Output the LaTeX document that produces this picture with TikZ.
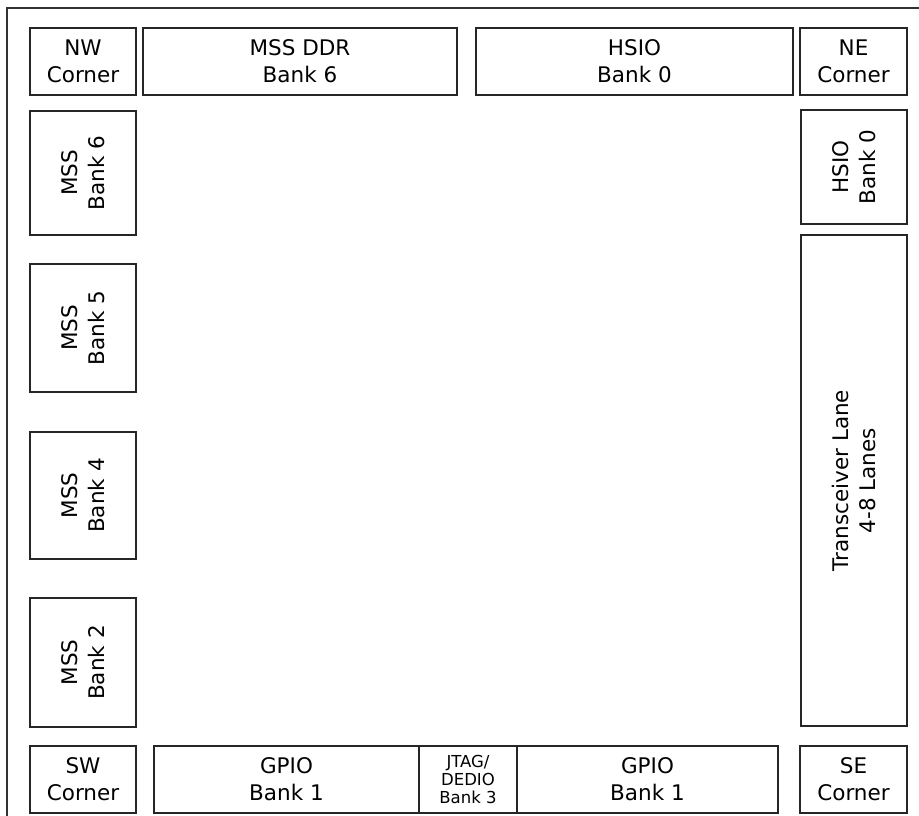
\documentclass[tikz,border=0pt]{standalone}
\usepackage{fontspec}
\setmainfont{DejaVu Sans}
\begin{document}
\begin{tikzpicture}[x=1pt,y=-1pt,
  box/.style={draw=black!85, line width=1.2pt, inner sep=0pt, align=center,
    font=\fontsize{21.5}{27}\selectfont},
  smallbox/.style={box, font=\fontsize{16.5}{18}\selectfont},
  frame/.style={draw=black!80, line width=1.1pt}]
\useasboundingbox (0,0) rectangle (919,816);
\coordinate (fb) at (7,816);
\coordinate (ftl) at (7,8);
\coordinate (fr) at (919,8);
\draw[frame] (fb) -- (ftl) -- (fr);
% top row
\node[box, minimum width=106pt, minimum height=67pt] (nw) at (83,61.5) {NW\\Corner};
\node[box, minimum width=314pt, minimum height=67pt] (ddr) at (300,61.5) {MSS DDR\\Bank 6};
\node[box, minimum width=317pt, minimum height=67pt] (hsiot) at (634.5,61.5) {HSIO\\Bank 0};
\node[box, minimum width=107pt, minimum height=67pt] (ne) at (853.5,61.5) {NE\\Corner};
% left column
\node[box, rotate=90, minimum width=124pt, minimum height=106pt] (mss6) at (83,173) {MSS\\Bank 6};
\node[box, rotate=90, minimum width=128pt, minimum height=106pt] (mss5) at (83,328) {MSS\\Bank 5};
\node[box, rotate=90, minimum width=127pt, minimum height=106pt] (mss4) at (83,495.5) {MSS\\Bank 4};
\node[box, rotate=90, minimum width=129pt, minimum height=106pt] (mss2) at (83,662.5) {MSS\\Bank 2};
% right column
\node[box, rotate=90, minimum width=114pt, minimum height=106pt] (hsior) at (854,167) {HSIO\\Bank 0};
\node[box, rotate=90, minimum width=491pt, minimum height=106pt] (xcvr) at (854,480.5) {Transceiver Lane\\4-8 Lanes};
% bottom row
\node[box, minimum width=106pt, minimum height=67pt] (sw) at (83,779.5) {SW\\Corner};
\node[box, minimum width=265pt, minimum height=67pt] (gpiol) at (286.5,779.5) {GPIO\\Bank 1};
\node[smallbox, minimum width=98pt, minimum height=67pt] (jtag) at (468,779.5) {JTAG/\\DEDIO\\Bank 3};
\node[box, minimum width=261pt, minimum height=67pt] (gpior) at (647.5,779.5) {GPIO\\Bank 1};
\node[box, minimum width=107pt, minimum height=67pt] (se) at (853.5,779.5) {SE\\Corner};
\end{tikzpicture}
\end{document}
